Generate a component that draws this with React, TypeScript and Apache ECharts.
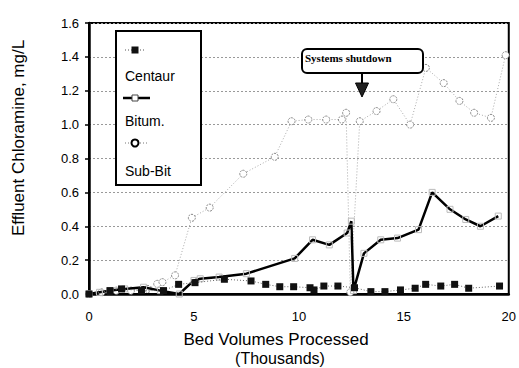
import React, { useEffect, useRef } from "react";
import * as echarts from "echarts";

const yTicks = [0, 0.2, 0.4, 0.6, 0.8, 1.0, 1.2, 1.4, 1.6];
const xTicks = [0, 5, 10, 15, 20];

const centaurX = [0, 1.0, 1.55, 2.5, 3.55, 4.27, 5.05, 6.45, 7.72, 8.42, 9.09, 9.75, 10.53, 10.72, 11.19, 11.86, 12.65, 13.43, 14.1, 14.84, 15.54, 16.04, 16.76, 17.42, 18.09, 19.56];
const centaurY = [0, 0.02, 0.03, 0.02, 0.02, 0.057, 0.067, 0.087, 0.077, 0.057, 0.043, 0.043, 0.037, 0.024, 0.047, 0.047, 0.037, 0.014, 0.014, 0.024, 0.034, 0.057, 0.047, 0.057, 0.034, 0.047];

const bitumX = [0, 0.5, 1.0, 1.7, 2.6, 3.4, 4.3, 5.0, 5.3, 6.2, 7.5, 9.8, 10.65, 11.45, 12.3, 12.5, 12.6, 13.1, 13.9, 14.7, 15.7, 16.35, 17.2, 17.95, 18.65, 19.5];
const bitumY = [0, 0.01, 0.02, 0.03, 0.04, 0.02, 0.0, 0.08, 0.09, 0.1, 0.12, 0.21, 0.32, 0.29, 0.36, 0.43, 0.02, 0.24, 0.32, 0.33, 0.38, 0.6, 0.5, 0.44, 0.4, 0.46];

const subBitX = [0, 0.6, 1.3, 2.0, 2.8, 3.25, 3.5, 4.1, 4.9, 5.75, 7.35, 8.85, 9.65, 10.45, 11.3, 12.05, 12.25, 12.45, 12.9, 13.7, 14.5, 15.3, 16.05, 16.9, 17.65, 18.35, 19.15, 19.85];
const subBitY = [0, 0.01, 0.02, 0.02, 0.03, 0.06, 0.07, 0.11, 0.45, 0.51, 0.71, 0.81, 1.02, 1.03, 1.03, 1.03, 1.07, 0.01, 1.02, 1.08, 1.15, 1.0, 1.335, 1.245, 1.14, 1.07, 1.04, 1.41];

const seriesNames = ["Centaur", "Bitum.", "Sub-Bit"];
const annotationText = "Systems shutdown";
const xAxisTitle = "Bed Volumes Processed";
const xAxisSubTitle = "(Thousands)";
const yAxisTitle = "Effluent Chloramine, mg/L";

const zip = (xs: number[], ys: number[]) => xs.map((x, i) => [x, ys[i]]);

export default function App() {
  const ref = useRef<HTMLDivElement>(null);
  useEffect(() => {
    if (!ref.current) return;
    const chart = echarts.init(ref.current, null, { renderer: "svg" });
    const font = "'Liberation Sans', Arial, sans-serif";
    chart.setOption({
      animation: false,
      backgroundColor: "#fff",
      grid: {
        left: 89,
        right: 4,
        top: 23,
        bottom: 74,
        show: true,
        borderColor: "#000",
        borderWidth: 2,
      },
      xAxis: {
        type: "value",
        min: xTicks[0],
        max: xTicks[xTicks.length - 1],
        interval: 5,
        axisLine: { lineStyle: { color: "#000", width: 2.5 } },
        axisTick: { show: false },
        splitLine: { show: false },
        axisLabel: { color: "#000", fontSize: 13, fontFamily: font, margin: 16 },
      },
      yAxis: {
        type: "value",
        min: yTicks[0],
        max: yTicks[yTicks.length - 1],
        interval: 0.2,
        axisLine: { show: true, lineStyle: { color: "#000", width: 2.5 } },
        axisTick: { show: true, length: 4, lineStyle: { color: "#000", width: 1.5 } },
        splitLine: { show: true, lineStyle: { color: "#999", width: 1, type: [2, 2] } },
        axisLabel: {
          color: "#000",
          fontSize: 13,
          fontFamily: font,
          margin: 10,
          formatter: (v: number) => v.toFixed(1),
        },
      },
      series: [
        {
          name: seriesNames[2],
          type: "line",
          data: zip(subBitX, subBitY),
          symbol: "circle",
          symbolSize: 7,
          lineStyle: { color: "#aaa", width: 1, type: [1, 2] },
          itemStyle: { color: "#fff", borderColor: "#888", borderWidth: 1, borderType: [2, 1] },
          z: 2,
        },
        {
          name: seriesNames[1],
          type: "line",
          data: zip(bitumX, bitumY),
          symbol: "rect",
          symbolSize: 6,
          lineStyle: { color: "#000", width: 2.5 },
          itemStyle: { color: "rgba(255,255,255,0)", borderColor: "#bbb", borderWidth: 1 },
          z: 3,
        },
        {
          name: seriesNames[0],
          type: "line",
          data: zip(centaurX, centaurY),
          symbol: "rect",
          symbolSize: 7,
          lineStyle: { color: "#666", width: 1, type: [1, 2] },
          itemStyle: { color: "#111" },
          z: 4,
        },
      ],
      graphic: [
        {
          type: "text",
          x: 18,
          y: 138,
          rotation: Math.PI / 2,
          style: {
            text: yAxisTitle,
            fill: "#000",
            font: `17px ${font}`,
            align: "center",
            verticalAlign: "middle",
          },
        },
        {
          type: "text",
          x: 276,
          y: 339,
          style: { text: xAxisTitle, fill: "#000", font: `17px ${font}`, align: "center", verticalAlign: "middle" },
        },
        {
          type: "text",
          x: 280,
          y: 358,
          style: { text: xAxisSubTitle, fill: "#000", font: `16px ${font}`, align: "center", verticalAlign: "middle" },
        },
        {
          type: "rect",
          shape: { x: 116, y: 31, width: 85, height: 154 },
          style: { fill: "#fff", stroke: "#000", lineWidth: 2 },
          z: 100,
        },
        {
          type: "line",
          shape: { x1: 125, y1: 50, x2: 146, y2: 50 },
          style: { stroke: "#555", lineWidth: 1, lineDash: [1, 2] },
          z: 101,
        },
        {
          type: "rect",
          shape: { x: 131.5, y: 46.5, width: 7, height: 7 },
          style: { fill: "#111" },
          z: 102,
        },
        {
          type: "text",
          x: 125,
          y: 76,
          style: { text: seriesNames[0], fill: "#000", font: `14px ${font}`, verticalAlign: "middle" },
          z: 101,
        },
        {
          type: "line",
          shape: { x1: 123, y1: 98, x2: 150, y2: 98 },
          style: { stroke: "#000", lineWidth: 2.5 },
          z: 101,
        },
        {
          type: "rect",
          shape: { x: 132, y: 95, width: 6, height: 6 },
          style: { fill: "#fff", stroke: "#444", lineWidth: 1 },
          z: 102,
        },
        {
          type: "text",
          x: 125,
          y: 121,
          style: { text: seriesNames[1], fill: "#000", font: `14px ${font}`, verticalAlign: "middle" },
          z: 101,
        },
        {
          type: "line",
          shape: { x1: 125, y1: 143, x2: 148, y2: 143 },
          style: { stroke: "#777", lineWidth: 1, lineDash: [1, 2] },
          z: 101,
        },
        {
          type: "circle",
          shape: { cx: 135, cy: 143, r: 3.5 },
          style: { fill: "#fff", stroke: "#000", lineWidth: 2 },
          z: 102,
        },
        {
          type: "text",
          x: 125,
          y: 171,
          style: { text: seriesNames[2], fill: "#000", font: `14px ${font}`, verticalAlign: "middle" },
          z: 101,
        },
        {
          type: "rect",
          shape: { x: 302, y: 49, width: 121, height: 24, r: 5 },
          style: { fill: "#fff", stroke: "#000", lineWidth: 2 },
          z: 100,
        },
        {
          type: "text",
          x: 305,
          y: 58,
          style: {
            text: annotationText,
            fill: "#000",
            font: "bold 11px 'Liberation Serif', 'Times New Roman', serif",
            verticalAlign: "middle",
          },
          z: 101,
        },
        {
          type: "line",
          shape: { x1: 362, y1: 72, x2: 362, y2: 85 },
          style: { stroke: "#000", lineWidth: 2 },
          z: 101,
        },
        {
          type: "polygon",
          shape: { points: [[355.5, 83], [368.5, 83], [362, 97]] },
          style: { fill: "#222", stroke: "#000", lineWidth: 1 },
          z: 101,
        },
      ],
    });
    return () => chart.dispose();
  }, []);
  return (
    <div
      ref={ref}
      style={{ position: "absolute", left: 0, top: 0, width: 519, height: 368 }}
    />
  );
}
